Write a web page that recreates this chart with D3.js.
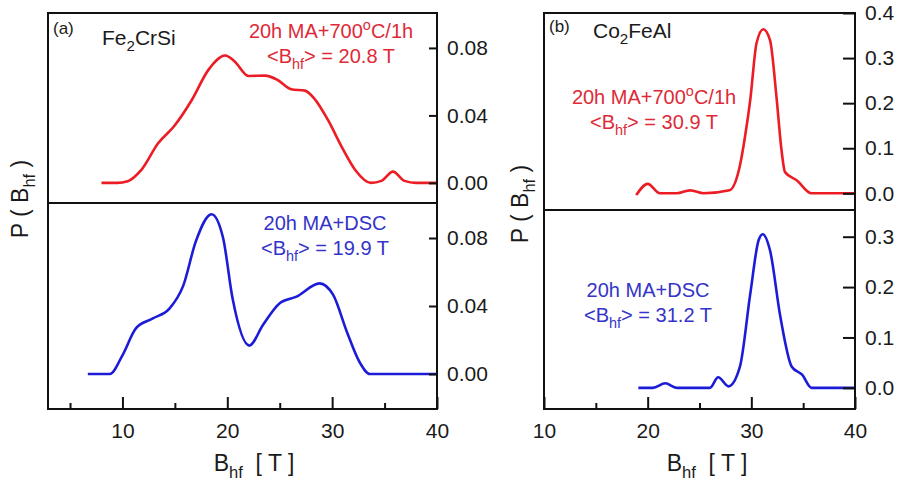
<!DOCTYPE html>
<html>
<head>
<meta charset="utf-8">
<script src="https://cdn.jsdelivr.net/npm/d3@7/dist/d3.min.js"></script>
<style>
  body { margin: 0; background: #fff; }
  svg text { font-family: Arial, "Liberation Sans", sans-serif; fill: #1a1a1a; }
</style>
</head>
<body>
<svg id="chart" width="900" height="483"></svg>
<script>
// --- donnees ---
// Fe2CrSi, 20h MA + 700C/1h (rouge)
const feRecuitB = [8.0, 9.5, 10.5, 11.8, 13.4, 14.9, 16.6, 18.2, 19.8, 20.7, 22.0, 23.6, 24.8, 26.1, 27.4, 28.3, 29.6, 30.9, 32.2, 33.7, 34.7, 35.8, 36.9, 38.0, 40.0];
const feRecuitP = [0, 0, 0.001, 0.0077, 0.0235, 0.0334, 0.049, 0.067, 0.0755, 0.072, 0.0634, 0.0636, 0.061, 0.0555, 0.0547, 0.050, 0.0373, 0.0215, 0.0077, 0, 0.0012, 0.0067, 0.0012, 0, 0];
// Fe2CrSi, 20h MA + DSC (bleu)
const feDscB = [6.7, 8.8, 10.0, 11.3, 12.9, 14.5, 15.8, 17.0, 18.5, 19.6, 20.5, 22.1, 23.4, 25.0, 26.6, 28.8, 30.1, 31.4, 32.6, 33.6, 40.0];
const feDscP = [0, 0, 0.011, 0.027, 0.0327, 0.0386, 0.052, 0.078, 0.094, 0.080, 0.0445, 0.0167, 0.0288, 0.0416, 0.0455, 0.0533, 0.0465, 0.0249, 0.0072, 0, 0];
// Co2FeAl, 20h MA + 700C/1h (rouge)
const coRecuitB = [18.9, 20.0, 21.2, 22.8, 24.1, 25.4, 27.9, 28.9, 29.4, 29.9, 30.5, 31.15, 31.8, 32.45, 32.9, 33.25, 34.4, 35.8, 40.0];
const coRecuitP = [-0.004, 0.021, 0.0, 0.0, 0.0066, 0.0, 0.0066, 0.0615, 0.127, 0.208, 0.333, 0.364, 0.34, 0.208, 0.098, 0.047, 0.0286, 0, 0];
// Co2FeAl, 20h MA + DSC (bleu)
const coDscB = [19.1, 20.5, 21.7, 22.8, 26.0, 26.8, 27.8, 28.9, 29.9, 30.7, 31.1, 31.8, 32.8, 33.9, 34.9, 35.8, 40.0];
const coDscP = [0, 0, 0.009, 0, 0, 0.021, 0.003, 0.042, 0.187, 0.293, 0.305, 0.273, 0.141, 0.042, 0.026, 0, 0];

// graduations
const ticksXMajeurs = [10, 20, 30, 40];
const ticksXMineursA = [5, 15, 25, 35];
const ticksXMineursB = [15, 25, 35];
const ticksFe = [0, 0.04, 0.08];
const ticksCoHaut = [0, 0.1, 0.2, 0.3, 0.4];
const ticksCoBas = [0, 0.1, 0.2, 0.3];

const rouge = "#ec1c24";
const bleu = "#1c1cd8";
const rougeTexte = "#de2a38";
const bleuTexte = "#3434c8";

const svg = d3.select("#chart");

// ajoute un texte avec indices / exposants : parts = [[texte, "sub"|"sup"|""], ...]
const texteRiche = (g, x, y, parts, taille, couleur, ancre) => {
  const t = g.append("text")
    .attr("x", x)
    .attr("y", y)
    .attr("font-size", taille)
    .attr("text-anchor", ancre || "start")
    .style("white-space", "pre");
  if (couleur) t.style("fill", couleur);
  let decal = 0;
  parts.forEach(([txt, type]) => {
    const ts = t.append("tspan").text(txt);
    let cible = 0;
    if (type === "sub") cible = taille * 0.3;
    if (type === "sup") cible = -taille * 0.38;
    if (cible !== decal) ts.attr("dy", cible - decal);
    if (type) ts.attr("font-size", taille * 0.72);
    decal = cible;
  });
  return t;
};

const dessinePanneau = (p) => {
  const g = svg.append("g");

  const x = d3.scaleLinear().domain(p.domX).range([p.gauche, p.droite]);
  const yHaut = d3.scaleLinear().domain(p.domHaut).range([p.milieu, p.haut]);
  const yBas = d3.scaleLinear().domain(p.domBas).range([p.bas, p.milieu]);

  const ligne = (yScale) => d3.line()
    .x(d => x(d[0]))
    .y(d => yScale(d[1]))
    .curve(d3.curveMonotoneX);

  // courbes
  g.append("path")
    .datum(d3.zip(p.hautB, p.hautP))
    .attr("d", ligne(yHaut))
    .attr("fill", "none")
    .attr("stroke", rouge)
    .attr("stroke-width", 2.6);

  g.append("path")
    .datum(d3.zip(p.basB, p.basP))
    .attr("d", ligne(yBas))
    .attr("fill", "none")
    .attr("stroke", bleu)
    .attr("stroke-width", 2.6);

  // axes de droite (graduations vers l'interieur)
  const axeDroit = (yScale, valeurs) => {
    const a = g.append("g")
      .attr("transform", `translate(${p.droite},0)`)
      .call(d3.axisRight(yScale).tickValues(valeurs).tickFormat(d3.format(p.format))
        .tickSize(-p.tickY).tickPadding(10));
    a.select(".domain").remove();
    a.selectAll("line").attr("stroke", "#111").attr("stroke-width", 2);
    a.selectAll("text").attr("font-size", 21).attr("font-family", null).style("fill", "#1a1a1a");
  };
  axeDroit(yHaut, p.ticksHaut);
  axeDroit(yBas, p.ticksBas);

  // axe du bas
  const axeX = g.append("g")
    .attr("transform", `translate(0,${p.bas})`)
    .call(d3.axisBottom(x).tickValues(ticksXMajeurs).tickSize(-12).tickPadding(14));
  axeX.select(".domain").remove();
  axeX.selectAll("line").attr("stroke", "#111").attr("stroke-width", 2);
  axeX.selectAll("text").attr("font-size", 21).attr("font-family", null).style("fill", "#1a1a1a");

  const axeXMin = g.append("g")
    .attr("transform", `translate(0,${p.bas})`)
    .call(d3.axisBottom(x).tickValues(p.mineurs).tickSize(-6).tickFormat(""));
  axeXMin.select(".domain").remove();
  axeXMin.selectAll("line").attr("stroke", "#111").attr("stroke-width", 2);

  // cadre + separation
  g.append("rect")
    .attr("x", p.gauche).attr("y", p.haut)
    .attr("width", p.droite - p.gauche).attr("height", p.bas - p.haut)
    .attr("fill", "none").attr("stroke", "#111").attr("stroke-width", 2);
  g.append("line")
    .attr("x1", p.gauche).attr("x2", p.droite)
    .attr("y1", p.milieu).attr("y2", p.milieu)
    .attr("stroke", "#111").attr("stroke-width", 2);

  // textes
  texteRiche(g, p.gauche + 5, p.yLettre, [[p.lettre, ""]], 17);
  texteRiche(g, p.xNom, p.yNom, p.nom, 21);

  texteRiche(g, p.xRouge, p.yRouge, [["20h MA+700", ""], ["o", "sup"], ["C/1h", ""]], 20, rougeTexte, "middle");
  texteRiche(g, p.xRouge, p.yRouge + 25, [["<B", ""], ["hf", "sub"], ["> = " + p.moyHaut + " T", ""]], 20, rougeTexte, "middle");
  texteRiche(g, p.xBleu, p.yBleu, [["20h MA+DSC", ""]], 20, bleuTexte, "middle");
  texteRiche(g, p.xBleu, p.yBleu + 25, [["<B", ""], ["hf", "sub"], ["> = " + p.moyBas + " T", ""]], 20, bleuTexte, "middle");

  // titres des axes
  texteRiche(g, p.xTitreX, 471, [["B", ""], ["hf", "sub"], ["  [ T ]", ""]], 23, null, "middle");
  texteRiche(g, 0, 0, [["P ( B", ""], ["hf", "sub"], [" )", ""]], 23, null, "middle")
    .attr("transform", `translate(${p.xTitreY},${p.yTitreY}) rotate(-90)`);
};

dessinePanneau({
  gauche: 48, droite: 437, haut: 13, milieu: 203, bas: 409,
  domX: [2.9, 40], domHaut: [-0.0119, 0.1007], domBas: [-0.0206, 0.1006],
  hautB: feRecuitB, hautP: feRecuitP, basB: feDscB, basP: feDscP,
  ticksHaut: ticksFe, ticksBas: ticksFe, mineurs: ticksXMineursA,
  format: ".2f", tickY: 8,
  lettre: "(a)", yLettre: 34,
  nom: [["Fe", ""], ["2", "sub"], ["CrSi", ""]], xNom: 102, yNom: 45,
  xRouge: 331, yRouge: 38, moyHaut: "20.8",
  xBleu: 325, yBleu: 230, moyBas: "19.9",
  xTitreX: 254, xTitreY: 28, yTitreY: 199
});

dessinePanneau({
  gauche: 544, droite: 855, haut: 13, milieu: 210, bas: 409,
  domX: [10, 40], domHaut: [-0.037, 0.4], domBas: [-0.042, 0.353],
  hautB: coRecuitB, hautP: coRecuitP, basB: coDscB, basP: coDscP,
  ticksHaut: ticksCoHaut, ticksBas: ticksCoBas, mineurs: ticksXMineursB,
  format: ".1f", tickY: 12,
  lettre: "(b)", yLettre: 32,
  nom: [["Co", ""], ["2", "sub"], ["FeAl", ""]], xNom: 593, yNom: 38,
  xRouge: 654, yRouge: 104, moyHaut: "30.9",
  xBleu: 648, yBleu: 297, moyBas: "31.2",
  xTitreX: 707, xTitreY: 528, yTitreY: 204
});
</script>
</body>
</html>
